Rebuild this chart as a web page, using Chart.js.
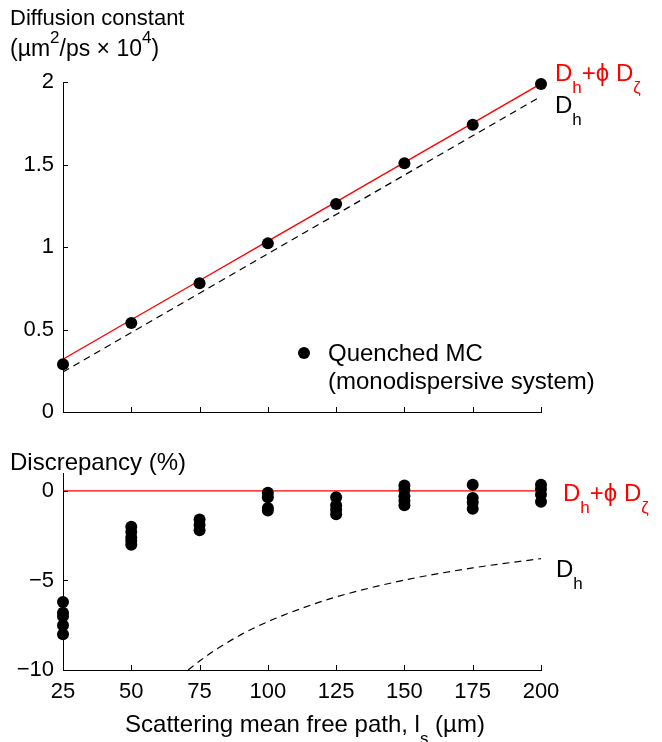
<!DOCTYPE html>
<html><head><meta charset="utf-8">
<script src="https://cdn.jsdelivr.net/npm/chart.js@4/dist/chart.umd.min.js"></script>
<style>
html,body{margin:0;padding:0;background:#fff;}
#wrap{position:relative;width:662px;height:742px;overflow:hidden;}
canvas{position:absolute;left:0;}
#cTop{top:0;}
#cBot{top:440px;}
</style></head><body>
<div id="wrap">
<canvas id="cTop" width="662" height="440"></canvas>
<canvas id="cBot" width="662" height="302"></canvas>
</div>
<script>
// ---------- data ----------
const pathLengths = [25, 50, 75, 100, 125, 150, 175, 200];
const xTicks = [25, 50, 75, 100, 125, 150, 175, 200];
const yTicksTop = [0, 0.5, 1, 1.5, 2];
const yTicksBottom = [-10, -5, 0];

// top panel: diffusion constant (um^2/ps x 10^4)
const mcDiffusion = [0.29, 0.539, 0.781, 1.022, 1.261, 1.508, 1.741, 1.988];
const fitTotal   = [0.32, 0.559, 0.797, 1.036, 1.274, 1.513, 1.751, 1.99];
const fitHydro   = [0.243, 0.482, 0.720, 0.959, 1.197, 1.436, 1.674, 1.913];

// bottom panel: discrepancy (%) of Quenched MC runs
const disc25  = [-6.2, -6.8, -7.0, -7.5, -8.0];
const disc50  = [-2.0, -2.3, -2.6, -2.8, -3.0];
const disc75  = [-1.6, -1.9, -2.2];
const disc100 = [-0.1, -0.35, -0.95, -1.1];
const disc125 = [-0.35, -0.8, -1.05, -1.3];
const disc150 = [0.3, 0.05, -0.3, -0.55, -0.8];
const disc175 = [0.35, -0.4, -0.65, -1.0];
const disc200 = [0.35, 0.1, -0.2, -0.6];
const discTotalX = [25, 200];
const discTotalY = [0, 0];
const discHydroX = [70.8, 75, 80, 90, 100, 112.5, 125, 150, 175, 200];
const discHydroY = [-10, -9.5, -8.96, -8.04, -7.3, -6.55, -5.92, -4.98, -4.3, -3.78];

// ---------- helpers ----------
const FONT = '"Liberation Sans", Arial, Helvetica, sans-serif';
const RED = '#ff0000';
const pts = (xs, ys) => xs.map((x, i) => ({x: x, y: ys[i]}));
const fmt = v => (v < 0 ? '\u2212' + Math.abs(v) : String(v));

function rich(ctx, x, y, parts, size, color) {
  ctx.save();
  ctx.textBaseline = 'alphabetic';
  ctx.textAlign = 'left';
  ctx.fillStyle = color;
  let cx = x;
  for (const p of parts) {
    let s = size, dy = 0;
    if (p.sub) { s = Math.round(size * 0.72); dy = size * 0.48; }
    if (p.sup) { s = Math.round(size * 0.72); dy = -size * 0.55; }
    ctx.font = s + 'px ' + FONT;
    ctx.fillText(p.t, cx, y + dy);
    cx += ctx.measureText(p.t).width;
  }
  ctx.restore();
  return cx;
}
function richWidth(ctx, parts, size) {
  let w = 0;
  for (const p of parts) {
    const s = (p.sub || p.sup) ? Math.round(size * 0.72) : size;
    ctx.font = s + 'px ' + FONT;
    w += ctx.measureText(p.t).width;
  }
  return w;
}

const inwardTicks = {
  id: 'inwardTicks',
  afterDraw(chart) {
    const ctx = chart.ctx, a = chart.chartArea;
    const xs = chart.scales.x, ys = chart.scales.y;
    ctx.save();
    ctx.strokeStyle = '#000';
    ctx.lineWidth = 1;
    ctx.beginPath();
    for (const v of xTicks) {
      const px = Math.round(xs.getPixelForValue(v)) + 0.5;
      ctx.moveTo(px, a.bottom); ctx.lineTo(px, a.bottom - 5);
    }
    for (const t of ys.ticks) {
      const py = Math.round(ys.getPixelForValue(t.value)) + 0.5;
      ctx.moveTo(a.left, py); ctx.lineTo(a.left + 5, py);
    }
    ctx.stroke();
    ctx.restore();
  }
};

const LAB = 24, TIT = 22, TICK = 22;
const labelTotal = [{t: 'D'}, {t: 'h', sub: true}, {t: '+\u03d5 D'}, {t: '\u03b6', sub: true}];
const labelHydro = [{t: 'D'}, {t: 'h', sub: true}];

const topText = {
  id: 'topText',
  afterDraw(chart) {
    const ctx = chart.ctx;
    rich(ctx, 10, 25, [{t: 'Diffusion constant'}], TIT, '#000');
    rich(ctx, 10, 56, [{t: '(\u00b5m'}, {t: '2', sup: true}, {t: '/ps \u00d7 10'}, {t: '4', sup: true}, {t: ')'}], 23, '#000');
    rich(ctx, 555, 81, labelTotal, LAB, RED);
    rich(ctx, 555, 113, labelHydro, LAB, '#000');
    // legend
    ctx.save();
    ctx.fillStyle = '#000';
    ctx.beginPath(); ctx.arc(304, 353, 6, 0, Math.PI * 2); ctx.fill();
    ctx.restore();
    rich(ctx, 328, 361, [{t: 'Quenched MC'}], LAB, '#000');
    rich(ctx, 328, 389, [{t: '(monodispersive system)'}], LAB, '#000');
  }
};
const botText = {
  id: 'botText',
  afterDraw(chart) {
    const ctx = chart.ctx;
    rich(ctx, 10, 30, [{t: 'Discrepancy (%)'}], 24, '#000');
    rich(ctx, 563, 61, labelTotal, LAB, RED);
    rich(ctx, 556, 137, labelHydro, LAB, '#000');
    const tp = [{t: 'Scattering mean free path, l'}, {t: 's', sub: true}, {t: ' (\u00b5m)'}];
    const w = richWidth(ctx, tp, 24);
    rich(ctx, 305 - w / 2, 292, tp, 24, '#000');
  }
};

function xScale(showLabels, h) {
  return {
    type: 'linear', min: 25, max: 200,
    afterBuildTicks: s => { s.ticks = xTicks.map(v => ({value: v})); },
    afterFit: s => { s.height = h; },
    grid: {display: false, drawTicks: false},
    border: {display: true, color: '#000', width: 1},
    ticks: {display: showLabels, padding: 9, color: '#000', font: {family: FONT, size: TICK}, maxRotation: 0, autoSkip: false}
  };
}
function yScale(min, max, ticks) {
  return {
    type: 'linear', min: min, max: max,
    afterBuildTicks: s => { s.ticks = ticks.map(v => ({value: v})); },
    afterFit: s => { s.width = 63; },
    grid: {display: false, drawTicks: false},
    border: {display: true, color: '#000', width: 1},
    ticks: {padding: 9, color: '#000', font: {family: FONT, size: TICK}, callback: v => fmt(v), autoSkip: false}
  };
}
const common = {
  responsive: false, animation: false, events: [],
  plugins: {legend: {display: false}, tooltip: {enabled: false}}
};

new Chart(document.getElementById('cTop'), {
  type: 'scatter',
  data: {datasets: [
    {data: pts(pathLengths, mcDiffusion), pointRadius: 6, pointBackgroundColor: '#000', pointBorderWidth: 0, showLine: false, clip: false},
    {data: pts(pathLengths, fitTotal), showLine: true, borderColor: RED, borderWidth: 1.4, pointRadius: 0},
    {data: pts(pathLengths, fitHydro), showLine: true, borderColor: '#000', borderWidth: 1.2, borderDash: [7, 5], pointRadius: 0}
  ]},
  options: Object.assign({}, common, {
    layout: {padding: {top: 82, right: 121, left: 0, bottom: 0}},
    scales: {x: xScale(false, 28), y: yScale(0, 2, yTicksTop)}
  }),
  plugins: [inwardTicks, topText]
});

const mcPoints = [].concat(
  disc25.map(v => ({x: 25, y: v})), disc50.map(v => ({x: 50, y: v})),
  disc75.map(v => ({x: 75, y: v})), disc100.map(v => ({x: 100, y: v})),
  disc125.map(v => ({x: 125, y: v})), disc150.map(v => ({x: 150, y: v})),
  disc175.map(v => ({x: 175, y: v})), disc200.map(v => ({x: 200, y: v})));

new Chart(document.getElementById('cBot'), {
  type: 'scatter',
  data: {datasets: [
    {data: mcPoints, pointRadius: 6, pointBackgroundColor: '#000', pointBorderWidth: 0, showLine: false, clip: false},
    {data: pts(discTotalX, discTotalY), showLine: true, borderColor: RED, borderWidth: 1.4, pointRadius: 0},
    {data: pts(discHydroX, discHydroY), showLine: true, borderColor: '#000', borderWidth: 1.2, borderDash: [7, 5], pointRadius: 0, cubicInterpolationMode: 'monotone'}
  ]},
  options: Object.assign({}, common, {
    layout: {padding: {top: 33, right: 121, left: 0, bottom: 0}},
    scales: {x: xScale(true, 72), y: yScale(-10, 1, yTicksBottom)}
  }),
  plugins: [inwardTicks, botText]
});
</script>
</body></html>
